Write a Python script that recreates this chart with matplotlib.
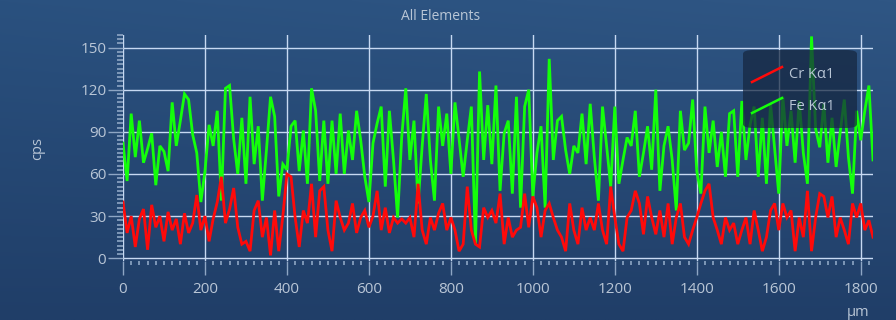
import numpy as np
import matplotlib
matplotlib.use("Agg")
import matplotlib.pyplot as plt
from matplotlib.patches import FancyBboxPatch
from matplotlib.lines import Line2D
from matplotlib.ticker import MultipleLocator

# ---------------- data ----------------
title = "All Elements"
y_label = "cps"
x_unit = "µm"
series_names = ["Cr Kα1", "Fe Kα1"]
series_colors = ["#ff0a0a", "#14ff0a"]
x_step_um = 10

cr_ka1 = [
    40, 18, 30, 8, 28, 35, 6, 38, 22, 30,
    12, 33, 20, 28, 10, 32, 18, 25, 45, 20,
    30, 12, 28, 40, 58, 25, 35, 50, 22, 10,
    12, 5, 34, 41, 15, 29, 2, 34, 5, 30,
    60, 58, 29, 8, 34, 25, 53, 15, 48, 51,
    20, 5, 41, 29, 20, 25, 39, 18, 29, 34,
    22, 30, 48, 20, 36, 18, 29, 25, 28, 25,
    29, 15, 53, 20, 10, 29, 20, 32, 39, 20,
    29, 20, 5, 10, 51, 20, 10, 8, 36, 29,
    34, 25, 46, 10, 29, 15, 20, 22, 46, 22,
    44, 36, 15, 34, 39, 29, 20, 15, 5, 39,
    20, 10, 36, 20, 29, 20, 39, 20, 10, 51,
    29, 10, 5, 29, 34, 48, 39, 17, 44, 29,
    17, 34, 15, 39, 10, 29, 39, 15, 10, 20,
    29, 39, 48, 53, 29, 20, 10, 29, 20, 25,
    10, 20, 29, 10, 34, 20, 5, 15, 34, 39,
    20, 39, 29, 34, 5, 29, 15, 48, 5, 29,
    46, 44, 29, 44, 15, 29, 20, 10, 39, 29,
    39, 20, 27, 15,
]

fe_ka1 = [
    82, 55, 103, 72, 98, 68, 78, 89, 52, 80,
    76, 62, 111, 80, 98, 117, 113, 88, 75, 40,
    62, 95, 80, 105, 41, 121, 123, 85, 60, 100,
    53, 115, 67, 94, 41, 77, 115, 101, 44, 67,
    63, 94, 98, 62, 91, 53, 121, 105, 55, 98,
    53, 98, 60, 103, 60, 91, 70, 105, 84, 58,
    40, 82, 96, 108, 51, 105, 70, 29, 86, 121,
    70, 98, 39, 80, 117, 70, 41, 108, 80, 103,
    60, 111, 85, 58, 84, 108, 10, 133, 70, 109,
    67, 123, 48, 89, 98, 46, 115, 36, 108, 120,
    44, 75, 94, 36, 142, 70, 98, 101, 77, 60,
    80, 75, 103, 67, 110, 72, 41, 108, 80, 51,
    108, 53, 70, 86, 80, 105, 58, 75, 94, 63,
    120, 48, 80, 94, 70, 34, 105, 77, 82, 113,
    62, 46, 108, 75, 98, 65, 90, 58, 103, 105,
    58, 112, 70, 95, 108, 58, 100, 53, 110, 78,
    46, 115, 80, 105, 68, 112, 75, 53, 158, 92,
    79, 110, 68, 100, 65, 90, 113, 72, 46, 105,
    84, 105, 123, 70,
]

x_ticks = [0, 200, 400, 600, 800, 1000, 1200, 1400, 1600, 1800]
y_ticks = [0, 30, 60, 90, 120, 150]

# ---------------- style ----------------
plt.rcParams['font.family'] = ['Open Sans', 'DejaVu Sans']
text_col = "#b9c6d6"
grid_col = (0.78, 0.85, 0.95, 0.27)
tick_col = "#8ea6c4"

W, H = 896, 320
fig = plt.figure(figsize=(W / 100, H / 100), dpi=100)

# background gradient
bg = fig.add_axes([0, 0, 1, 1], zorder=-10)
bg.set_axis_off()
ny, nx = 200, 400
yy = np.linspace(0, 1, ny)[:, None]      # 0 top, 1 bottom
xx = np.linspace(0, 1, nx)[None, :]
top = np.array([0x2a, 0x51, 0x7f]) / 255
bot = np.array([0x20, 0x3e, 0x68]) / 255
t = np.clip(yy * 1.0, 0, 1)
img = top[None, None, :] * (1 - t[..., None]) + bot[None, None, :] * t[..., None]
img = img + (0.02 * xx * (1 - yy))[..., None]
img = np.clip(img, 0, 1)
bg.imshow(img, aspect='auto', extent=[0, 1, 0, 1], origin='upper')
bg.set_xlim(0, 1)
bg.set_ylim(0, 1)

# main axes
ax_left, ax_right = 123, 873
ax_top, ax_bot = 35, 261
ax = fig.add_axes([ax_left / W, (H - ax_bot) / H, (ax_right - ax_left) / W, (ax_bot - ax_top) / H])
ax.set_facecolor('none')

ax.plot(np.arange(len(fe_ka1)) * x_step_um, fe_ka1, color=series_colors[1], lw=2.0,
        zorder=3, solid_joinstyle='miter')
ax.plot(np.arange(len(cr_ka1)) * x_step_um, cr_ka1, color=series_colors[0], lw=2.0,
        zorder=4, solid_joinstyle='miter')

ax.set_xlim(0, 1830)
ax.set_ylim(-2, 159)
for s in ax.spines.values():
    s.set_visible(False)

ax.set_xticks(x_ticks)
ax.set_yticks(y_ticks)
ax.xaxis.set_minor_locator(MultipleLocator(20))
ax.yaxis.set_minor_locator(MultipleLocator(3))
ax.grid(True, which='major', color=grid_col, lw=1.0, zorder=1)
ax.tick_params(axis='x', which='major', length=10, width=1, color=tick_col,
               labelcolor=text_col, labelsize=11, pad=5)
ax.tick_params(axis='x', which='minor', length=3, width=1.2, color=tick_col)
ax.tick_params(axis='y', which='major', length=11, width=1, color=tick_col,
               labelcolor=text_col, labelsize=11, pad=1)
ax.tick_params(axis='y', which='minor', length=4, width=1.2, color=tick_col)
ax.set_axisbelow(True)

# titles
fig.text(441 / W, 1 - 17 / H, title, ha='center', va='center', color=text_col, fontsize=10)
fig.text(38 / W, 1 - 148 / H, y_label, ha='center', va='center', color=text_col,
         fontsize=10.5, rotation=90)
fig.text(858 / W, 1 - 312 / H, x_unit, ha='center', va='center', color=text_col, fontsize=10.5)

# legend
lx0, ly0, lx1, ly1 = 743, 50, 857, 128
box = FancyBboxPatch((lx0 / W, 1 - ly1 / H), (lx1 - lx0) / W, (ly1 - ly0) / H,
                     boxstyle="round,pad=0,rounding_size=0.012",
                     transform=fig.transFigure, facecolor="#15263f", alpha=0.72,
                     edgecolor='none', zorder=20)
fig.add_artist(box)
entry_y = [75, 106]
for name, col, ey in zip(series_names, series_colors, entry_y):
    line = Line2D([752 / W, 782 / W], [1 - (ey + 7) / H, 1 - (ey - 8) / H],
                  transform=fig.transFigure, color=col, lw=1.8, zorder=21)
    fig.add_artist(line)
    fig.text(789 / W, 1 - ey / H, name, ha='left', va='center', color=text_col,
             fontsize=10.5, zorder=22)

fig.savefig("out.png", dpi=100)
